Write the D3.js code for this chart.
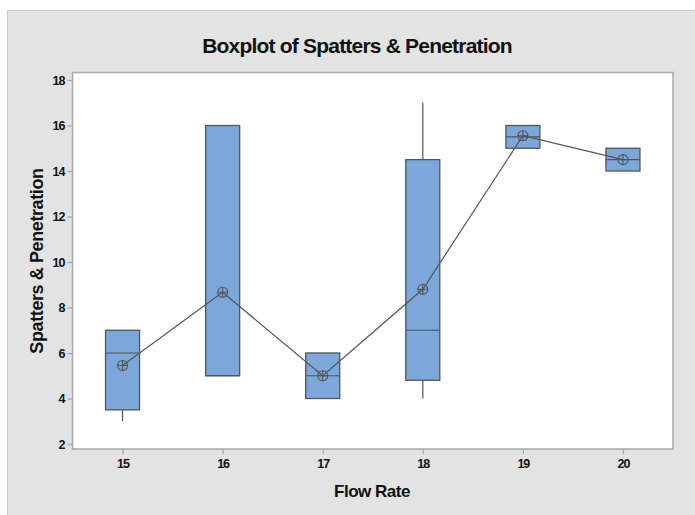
<!DOCTYPE html>
<html>
<head>
<meta charset="utf-8">
<script src="https://cdn.jsdelivr.net/npm/d3@7"></script>
<style>
  body { margin: 0; background: #fff; }
  text { font-family: "Liberation Sans", Arial, sans-serif; fill: #111; }
</style>
</head>
<body>
<div id="chart"></div>
<script>
// data
var flowRates = [15, 16, 17, 18, 19, 20];
var whiskerLow = [3, 5, 4, 4, 15, 14];
var q1 = [3.5, 5, 4, 4.8, 15, 14];
var median = [6, 5, 5, 7, 15.5, 14.5];
var q3 = [7, 16, 6, 14.5, 16, 15];
var whiskerHigh = [7, 16, 6, 17, 16, 15];
var means = [5.45, 8.67, 5, 8.8, 15.55, 14.5];
var yTicks = [2, 4, 6, 8, 10, 12, 14, 16, 18];

var W = 695, H = 515;
var plot = {left: 72.5, right: 673, top: 72.5, bottom: 449};

var svg = d3.select("#chart").append("svg")
    .attr("width", W).attr("height", H);

// outer gray panel
svg.append("rect")
   .attr("x", 7.5).attr("y", 10.5)
   .attr("width", W).attr("height", H)
   .attr("fill", "#e3e3e3").attr("stroke", "#c9c9c9");

svg.append("rect")
   .attr("x", plot.left).attr("y", plot.top)
   .attr("width", plot.right - plot.left).attr("height", plot.bottom - plot.top)
   .attr("fill", "#fff").attr("stroke", "#a8a8a8").attr("stroke-width", 1.5);

var x = d3.scaleLinear().domain([14.5, 20.5]).range([plot.left, plot.right]);
var y = d3.scaleLinear().domain([2, 18]).range([444, 80]);

var xAxis = svg.append("g")
    .attr("transform", "translate(0," + plot.bottom + ")")
    .call(d3.axisBottom(x).tickValues(flowRates).tickFormat(d3.format("d"))
          .tickSize(5).tickSizeOuter(0).tickPadding(5));
var yAxis = svg.append("g")
    .attr("transform", "translate(" + plot.left + ",0)")
    .call(d3.axisLeft(y).tickValues(yTicks).tickFormat(d3.format("d"))
          .tickSize(5).tickSizeOuter(0).tickPadding(3));

[xAxis, yAxis].forEach(function(a) {
  a.select(".domain").remove();
  a.selectAll(".tick line").attr("stroke", "#a8a8a8").attr("stroke-width", 1.3);
  a.selectAll(".tick text")
   .attr("font-size", 12.5).attr("font-weight", "bold")
   .attr("fill", "#111").attr("letter-spacing", "-1px");
});

var bw = 34;
var g = svg.append("g");

// whiskers
g.selectAll(".wlo").data(flowRates).enter().append("line")
  .attr("x1", function(d) { return x(d); }).attr("x2", function(d) { return x(d); })
  .attr("y1", function(d, i) { return y(q1[i]); })
  .attr("y2", function(d, i) { return y(whiskerLow[i]); })
  .attr("stroke", "#555").attr("stroke-width", 1.2);
g.selectAll(".whi").data(flowRates).enter().append("line")
  .attr("x1", function(d) { return x(d); }).attr("x2", function(d) { return x(d); })
  .attr("y1", function(d, i) { return y(q3[i]); })
  .attr("y2", function(d, i) { return y(whiskerHigh[i]); })
  .attr("stroke", "#555").attr("stroke-width", 1.2);

// boxes
g.selectAll(".box").data(flowRates).enter().append("rect")
  .attr("x", function(d) { return x(d) - bw / 2; })
  .attr("y", function(d, i) { return y(q3[i]); })
  .attr("width", bw)
  .attr("height", function(d, i) { return y(q1[i]) - y(q3[i]); })
  .attr("fill", "#7ba7da").attr("stroke", "#555").attr("stroke-width", 1.3);

// medians
g.selectAll(".med").data(flowRates).enter().append("line")
  .attr("x1", function(d) { return x(d) - bw / 2; })
  .attr("x2", function(d) { return x(d) + bw / 2; })
  .attr("y1", function(d, i) { return y(median[i]); })
  .attr("y2", function(d, i) { return y(median[i]); })
  .attr("stroke", "#555").attr("stroke-width", 1.2);

// mean connect line
var line = d3.line()
  .x(function(d) { return x(d); })
  .y(function(d, i) { return y(means[i]); });
g.append("path").datum(flowRates)
  .attr("d", line).attr("fill", "none")
  .attr("stroke", "#555").attr("stroke-width", 1.2);

// mean symbols: circle with cross
var r = 5;
var mg = g.selectAll(".mean").data(flowRates).enter().append("g")
  .attr("transform", function(d, i) { return "translate(" + x(d) + "," + y(means[i]) + ")"; });
mg.append("circle").attr("r", r).attr("fill", "none").attr("stroke", "#555").attr("stroke-width", 1.1);
mg.append("line").attr("x1", -r).attr("x2", r).attr("stroke", "#555").attr("stroke-width", 1.1);
mg.append("line").attr("y1", -r).attr("y2", r).attr("stroke", "#555").attr("stroke-width", 1.1);

// titles
svg.append("text")
  .attr("x", 357).attr("y", 53)
  .attr("text-anchor", "middle")
  .attr("font-size", 21).attr("font-weight", "bold").attr("letter-spacing", "-0.8px")
  .text("Boxplot of Spatters & Penetration");

svg.append("text")
  .attr("x", 372).attr("y", 497)
  .attr("text-anchor", "middle")
  .attr("font-size", 17).attr("font-weight", "bold").attr("letter-spacing", "-0.5px")
  .text("Flow Rate");

svg.append("text")
  .attr("transform", "translate(43,261) rotate(-90)")
  .attr("text-anchor", "middle")
  .attr("font-size", 18).attr("font-weight", "bold").attr("letter-spacing", "-0.4px")
  .text("Spatters & Penetration");
</script>
</body>
</html>
